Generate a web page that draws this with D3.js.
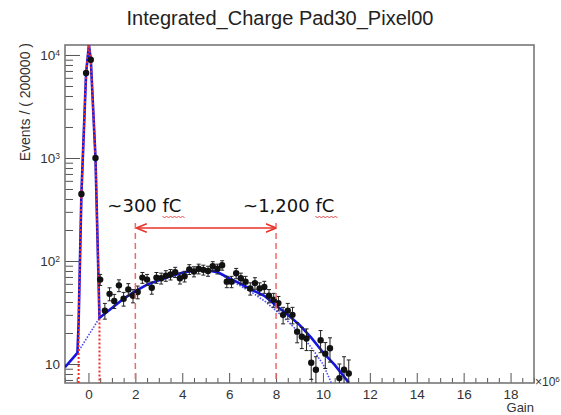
<!DOCTYPE html>
<meta charset="utf-8">
<style>
body { margin: 0; background: #fff; }
text { font-family: "Liberation Sans", Arial, sans-serif; fill: #222; }
</style>
<body>
<svg width="561" height="415"></svg>
<script src="https://cdn.jsdelivr.net/npm/d3@7/dist/d3.min.js"></script>
<script>

// Gain in units of 1e6, bin width 0.2
var binX = [-0.3, -0.1, 0.1, 0.3, 0.5, 0.7, 0.9, 1.1, 1.3, 1.5, 1.7, 1.9, 2.1, 2.3, 2.5, 2.7, 2.9,
            3.1, 3.3, 3.5, 3.7, 3.9, 4.1, 4.3, 4.5, 4.7, 4.9, 5.1, 5.3, 5.5, 5.7, 5.9, 6.1, 6.3,
            6.5, 6.7, 6.9, 7.1, 7.3, 7.5, 7.7, 7.9, 8.1, 8.3, 8.5, 8.7, 8.9, 9.1, 9.3, 9.5, 9.7,
            9.9, 10.1, 10.3, 10.7, 10.9, 11.1];
var binY = [447, 6700, 9000, 1000, 66, 33, 48, 41, 58, 43, 53, 46, 50, 69, 66, 55, 69,
            68, 72, 74, 78, 68, 71, 83, 79, 84, 82, 80, 89, 84, 91, 63, 63, 76,
            68, 63, 54, 61, 54, 56, 46, 42, 39, 30, 33, 30, 20.6, 18.4, 17.7, 10.3, 8.8,
            17, 12.6, 14.2, 7.3, 8.8, 8.1];

// total fit (solid blue)
var totalX = [-1, -0.47, -0.42, -0.3, -0.1, 0.02, 0.1, 0.3, 0.47, 1, 1.5, 2, 2.5, 3, 3.5, 4, 4.5,
              5, 5.5, 6, 6.5, 7, 7.5, 8, 8.5, 9, 9.5, 10, 10.5, 11.1];
var totalY = [9.3, 12.8, 25, 450, 6700, 12500, 9000, 1000, 28, 35, 43, 51, 59, 65, 71, 77, 81,
              82, 78, 68, 60, 52, 46, 37, 30, 24, 18, 13, 9.8, 6.6];

// broad component (dotted blue)
var bgX = [-0.47, 0.47, 1, 1.5, 2, 2.5, 3, 3.5, 4, 4.5, 5, 5.5, 6, 6.5, 7, 7.5, 8, 8.5, 9, 9.5, 10, 10.35];
var bgY = [12.8, 28, 35, 43, 51, 59, 65, 71, 77, 81, 82, 78, 66, 57, 49, 41, 33, 26, 20, 14.5, 10, 6.6];

// pedestal component (dotted red)
var pedX = [-0.42, -0.42, -0.3, -0.1, 0.02, 0.1, 0.3, 0.47, 0.47];
var pedY = [5, 25, 450, 6700, 12500, 9000, 1000, 28, 5];

var xMajor = [0, 2, 4, 6, 8, 10, 12, 14, 16, 18];
var yMajor = [10, 100, 1000, 10000];
var yExp = ["", "2", "3", "4"];

var markLines = [2, 8];
var markLabels = ["~300 fC", "~1,200 fC"];

var svg = d3.select("svg"),
    margin = {top: 45, right: 27, bottom: 32, left: 65},
    width = 561 - margin.left - margin.right,
    height = 415 - margin.top - margin.bottom,
    g = svg.append("g").attr("transform", "translate(" + margin.left + "," + margin.top + ")");

var x = d3.scaleLinear().domain([-1, 19]).range([0, width]),
    y = d3.scaleLog().domain([6.54, 12500]).range([height, 0]);

svg.append("text")
    .attr("x", 280).attr("y", 25)
    .attr("text-anchor", "middle")
    .style("font-size", "20px")
    .text("Integrated_Charge Pad30_Pixel00");

g.append("clipPath").attr("id", "clip")
  .append("rect").attr("width", width).attr("height", height);

// minor ticks
var xMinor = d3.range(-1, 19.01, 0.5).filter(function(v) { return xMajor.indexOf(v) < 0; });
var yMinor = [];
[1, 10, 100, 1000].forEach(function(d) {
  for (var k = 2; k <= 9; k++) if (d * k > 6.54 && d * k < 12500) yMinor.push(d * k);
});

g.append("g")
    .attr("class", "axis")
    .attr("transform", "translate(0," + height + ")")
    .call(d3.axisBottom(x).tickValues(xMinor).tickSize(-5).tickSizeOuter(0).tickFormat(""));
g.append("g")
    .attr("class", "axis")
    .attr("transform", "translate(0," + height + ")")
    .call(d3.axisBottom(x).tickValues(xMajor).tickSize(-10).tickSizeOuter(0).tickPadding(6).tickFormat(d3.format("d")));

g.append("g")
    .attr("class", "axis")
    .call(d3.axisLeft(y).tickValues(yMinor).tickSize(-8).tickSizeOuter(0).tickFormat(""));
var yAx = g.append("g")
    .attr("class", "axis")
    .call(d3.axisLeft(y).tickValues(yMajor).tickSize(-15).tickSizeOuter(0).tickPadding(5).tickFormat(""));

yAx.selectAll(".tick text").each(function(d, i) {
  var t = d3.select(this);
  t.append("tspan").text("10");
  if (yExp[i]) t.append("tspan").attr("dy", "-0.5em").style("font-size", "8.5px").text(yExp[i]);
});

svg.selectAll(".axis text").style("font-size", "13.5px").style("fill", "#333").style("font-family", "\"Liberation Sans\", Arial, sans-serif");
svg.selectAll(".axis line").style("stroke", "#555");
svg.selectAll(".axis path").style("stroke", "none");

// frame
g.append("rect")
    .attr("width", width).attr("height", height)
    .attr("fill", "none").attr("stroke", "#777").attr("stroke-width", 1.6);

// axis titles
svg.append("text")
    .attr("transform", "translate(30,43) rotate(-90)")
    .attr("text-anchor", "end")
    .style("font-size", "14px").style("fill", "#333")
    .text("Events / ( 200000 )");

svg.append("text")
    .attr("x", margin.left + width).attr("y", 412)
    .attr("text-anchor", "end")
    .style("font-size", "13px").style("fill", "#333")
    .text("Gain");

var mult = svg.append("text")
    .attr("x", margin.left + width + 1).attr("y", margin.top + height - 1)
    .attr("dy", "0.35em")
    .style("font-size", "12px").style("fill", "#333");
mult.append("tspan").text("\u00d710");
mult.append("tspan").attr("dy", "-0.5em").style("font-size", "8px").text("6");

var plot = g.append("g").attr("clip-path", "url(#clip)");

var line = d3.line()
    .x(function(d) { return x(d[0]); })
    .y(function(d) { return y(d[1]); });

function zip(a, b) { return a.map(function(v, i) { return [v, b[i]]; }); }

plot.append("path")
    .attr("d", line(zip(bgX, bgY)))
    .attr("fill", "none").attr("stroke", "#4a4af5").attr("stroke-width", 1.6)
    .attr("stroke-dasharray", "1.5,1.5");

plot.append("path")
    .attr("d", line(zip(totalX, totalY)))
    .attr("fill", "none").attr("stroke", "#1515e0").attr("stroke-width", 2.6);

plot.append("path")
    .attr("d", line(zip(pedX, pedY)))
    .attr("fill", "none").attr("stroke", "#f03030").attr("stroke-width", 2)
    .attr("stroke-dasharray", "2,2");

// annotation: dashed marks, arrow and labels
var arrowY = 183, lineTop = 178;
markLines.forEach(function(v) {
  g.append("line")
      .attr("x1", x(v)).attr("x2", x(v))
      .attr("y1", lineTop).attr("y2", height)
      .attr("stroke", "#f06a6a").attr("stroke-width", 1.5)
      .attr("stroke-dasharray", "6,4");
});

svg.append("defs").selectAll("marker")
    .data(["start", "end"])
  .enter().append("marker")
    .attr("id", function(d) { return "arr-" + d; })
    .attr("viewBox", "0 0 10 10").attr("refX", 9).attr("refY", 5)
    .attr("markerWidth", 7).attr("markerHeight", 7)
    .attr("orient", "auto-start-reverse")
  .append("path").attr("d", "M0,1L10,5L0,9").attr("fill", "none")
    .attr("stroke", "#e8332a").attr("stroke-width", 1.6);

g.append("line")
    .attr("x1", x(markLines[0]) + 2).attr("x2", x(markLines[1]) - 1)
    .attr("y1", arrowY).attr("y2", arrowY)
    .attr("stroke", "#e8332a").attr("stroke-width", 1.5)
    .attr("marker-start", "url(#arr-start)")
    .attr("marker-end", "url(#arr-end)");

var labelX = [x(markLines[0]) - 28, x(markLines[1]) - 33];
markLabels.forEach(function(s, i) {
  var t = g.append("text")
      .attr("x", labelX[i]).attr("y", 167)
      .style("font-family", "\"DejaVu Sans\", sans-serif")
      .style("font-size", "18px").style("fill", "#111")
      .text(s);
  var full = t.node().getComputedTextLength();
  var probe = g.append("text").style("font-family", "\"DejaVu Sans\", sans-serif")
      .style("font-size", "18px").text("fC");
  var w = probe.node().getComputedTextLength();
  probe.remove();
  var x0 = labelX[i] + full - w, x1 = labelX[i] + full + 3, p = "M" + x0 + "," + 171;
  for (var k = 0, xx = x0; xx < x1; k++) {
    xx += 2;
    p += "L" + xx + "," + (k % 2 ? 171 : 173);
  }
  g.append("path").attr("d", p).attr("fill", "none")
      .attr("stroke", "#e03a3a").attr("stroke-width", 0.9);
});

// data points
var pts = plot.selectAll(".pt")
    .data(zip(binX, binY))
  .enter().append("g").attr("class", "pt");

pts.append("line")
    .attr("x1", function(d) { return x(d[0]); })
    .attr("x2", function(d) { return x(d[0]); })
    .attr("y1", function(d) { return y(d[1] + Math.sqrt(d[1])); })
    .attr("y2", function(d) { return y(Math.max(d[1] - Math.sqrt(d[1]), 1)); })
    .attr("stroke", "#222").attr("stroke-width", 1);

[1, -1].forEach(function(s) {
  pts.append("line")
      .attr("x1", function(d) { return x(d[0]) - 2; })
      .attr("x2", function(d) { return x(d[0]) + 2; })
      .attr("y1", function(d) { return y(d[1] + s * Math.sqrt(d[1])); })
      .attr("y2", function(d) { return y(d[1] + s * Math.sqrt(d[1])); })
      .attr("stroke", "#222").attr("stroke-width", 1);
});

pts.append("line")
    .attr("x1", function(d) { return x(d[0] - 0.1); })
    .attr("x2", function(d) { return x(d[0] + 0.1); })
    .attr("y1", function(d) { return y(d[1]); })
    .attr("y2", function(d) { return y(d[1]); })
    .attr("stroke", "#222").attr("stroke-width", 1);

pts.append("circle")
    .attr("cx", function(d) { return x(d[0]); })
    .attr("cy", function(d) { return y(d[1]); })
    .attr("r", 3.2)
    .attr("fill", "#111");

</script>
</body>
